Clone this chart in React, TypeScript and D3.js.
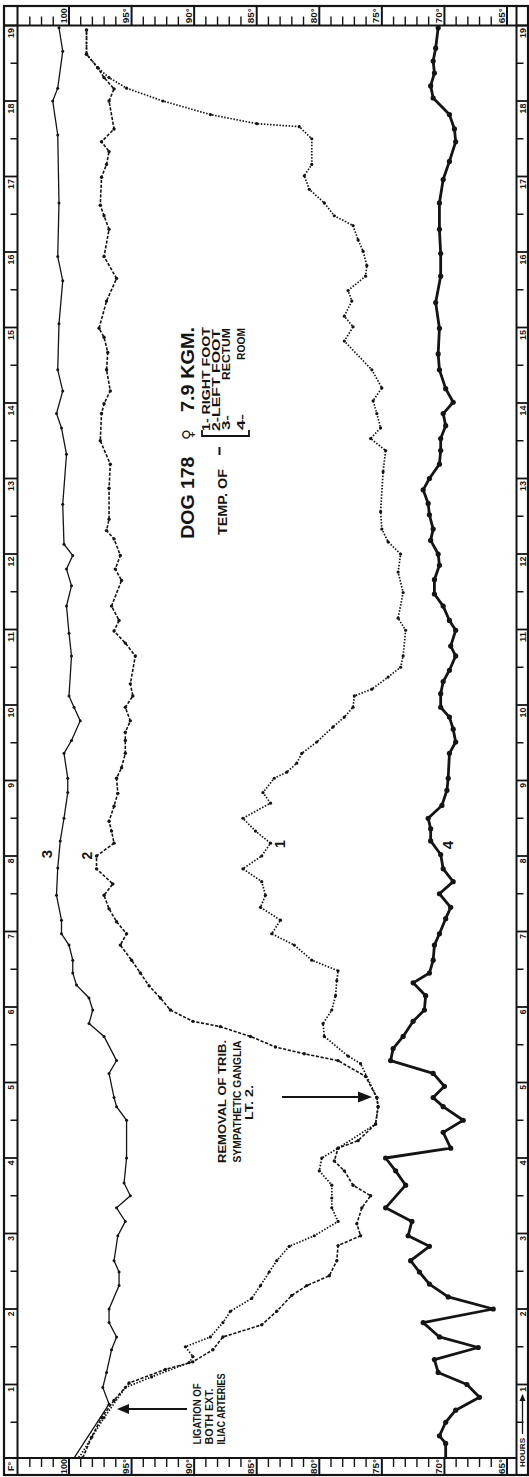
import React from "react";
import * as d3 from "d3";

// ---- Data (hours after start, temperature in °F) ----
// Curve 1: right foot
const rightFootHours = [0.03, 0.56, 0.96, 1.10, 1.29, 1.37, 1.50, 1.63, 1.82, 1.97, 2.14, 2.31, 2.49, 2.64, 2.83, 2.97, 3.16, 3.34, 3.47, 3.64, 3.83, 4.00, 4.13, 4.45, 4.68, 4.80, 5.25, 5.35, 5.61, 5.78, 5.96, 6.15, 6.35, 6.48, 6.62, 6.82, 6.97, 7.15, 7.32, 7.48, 7.66, 7.83, 8.00, 8.17, 8.33, 8.50, 8.70, 8.84, 9.03, 9.11, 9.23, 9.36, 9.51, 9.71, 9.84, 9.97, 10.12, 10.21, 10.37, 10.50, 10.65, 10.99, 11.15, 11.49, 11.76, 12.00, 12.16, 12.33, 12.56, 13.09, 13.37, 13.53, 13.67, 13.86, 14.03, 14.20, 14.44, 14.82, 15.01, 15.15, 15.35, 15.49, 15.68, 15.82, 16.01, 16.16, 16.35, 16.48, 16.65, 16.83, 17.01, 17.16, 17.50, 17.66, 17.70, 17.82, 18.00, 18.17, 18.31, 18.44, 18.62, 18.94];
const rightFootTemps = [99.2, 97.2, 95.5, 93.4, 90.4, 90.1, 90.7, 88.7, 87.7, 87.1, 85.4, 84.7, 84.0, 83.4, 82.4, 80.4, 78.5, 79.0, 79.0, 79.0, 80.0, 79.8, 78.5, 75.5, 75.3, 75.4, 76.7, 77.7, 79.6, 79.7, 79.0, 78.7, 78.6, 78.5, 80.6, 82.0, 83.8, 83.1, 84.7, 84.3, 84.6, 86.1, 84.6, 83.9, 85.1, 86.1, 83.9, 84.5, 83.6, 82.6, 81.8, 81.4, 80.2, 78.9, 78.0, 77.3, 77.2, 75.8, 74.5, 73.5, 73.3, 73.1, 73.7, 73.3, 73.7, 73.5, 74.5, 75.0, 75.1, 74.9, 74.7, 75.9, 75.1, 75.4, 75.7, 75.0, 75.8, 78.0, 77.3, 78.0, 77.4, 77.7, 76.3, 76.2, 76.5, 76.9, 77.3, 78.8, 79.6, 80.8, 81.2, 80.6, 80.6, 81.6, 85.0, 88.7, 92.5, 95.4, 96.8, 97.7, 98.6, 98.6];

// Curve 2: left foot
const leftFootHours = [0.03, 0.30, 0.56, 0.79, 1.02, 1.20, 1.30, 1.46, 1.63, 1.79, 1.97, 2.18, 2.31, 2.44, 2.64, 2.84, 2.97, 3.13, 3.34, 3.50, 3.64, 3.83, 3.96, 4.13, 4.23, 4.45, 4.68, 4.80, 5.08, 5.29, 5.38, 5.47, 5.61, 5.74, 5.81, 5.96, 6.12, 6.28, 6.45, 6.62, 6.82, 6.97, 7.13, 7.30, 7.48, 7.63, 7.83, 8.00, 8.17, 8.33, 8.46, 8.66, 8.83, 9.03, 9.17, 9.36, 9.53, 9.64, 9.79, 9.97, 10.12, 10.28, 10.65, 10.82, 10.98, 11.12, 11.31, 11.65, 11.80, 11.98, 12.20, 12.31, 12.46, 12.87, 13.19, 13.50, 13.86, 13.99, 14.16, 14.44, 14.67, 14.87, 14.99, 15.35, 15.65, 15.94, 16.30, 16.48, 16.62, 16.99, 17.16, 17.33, 17.46, 17.63, 18.00, 18.16, 18.31, 18.44, 18.62, 18.94];
const leftFootTemps = [98.9, 98.2, 97.4, 96.4, 95.2, 92.3, 90.1, 88.5, 87.7, 84.6, 83.4, 82.2, 81.0, 79.2, 78.6, 78.5, 76.7, 77.0, 76.6, 75.9, 77.3, 78.0, 78.8, 78.5, 76.9, 75.5, 75.3, 75.4, 76.3, 78.5, 81.2, 83.5, 85.5, 87.9, 90.1, 91.9, 92.7, 93.6, 94.3, 95.0, 95.9, 95.4, 96.2, 96.8, 97.2, 96.5, 97.8, 97.8, 96.4, 96.6, 96.8, 96.4, 96.1, 96.2, 95.8, 95.5, 95.5, 95.5, 95.1, 95.5, 94.9, 95.1, 94.7, 95.5, 96.4, 96.0, 96.6, 95.8, 96.3, 95.9, 96.4, 97.0, 96.8, 96.8, 96.7, 97.5, 97.4, 97.2, 96.7, 97.0, 96.9, 97.2, 97.6, 97.0, 96.2, 97.2, 96.8, 97.2, 97.5, 97.4, 97.0, 96.8, 97.4, 96.4, 96.8, 96.4, 97.2, 97.7, 98.6, 98.6];

// Curve 3: rectum
const rectumHours = [0, 0.74, 0.96, 1.16, 1.46, 1.63, 1.82, 2.00, 2.31, 2.49, 2.64, 2.97, 3.16, 3.34, 3.50, 3.67, 4.00, 4.50, 4.68, 4.80, 5.12, 5.29, 5.61, 5.78, 5.96, 6.12, 6.29, 6.45, 6.62, 6.82, 6.97, 7.15, 7.48, 7.84, 8.20, 8.50, 8.84, 9.03, 9.36, 9.53, 9.79, 9.97, 10.12, 10.65, 10.95, 11.31, 11.58, 11.80, 11.98, 12.13, 12.66, 13.32, 13.67, 13.86, 14.16, 14.44, 15.05, 15.62, 15.94, 16.65, 17.55, 18.00, 18.17, 18.66, 18.97];
const rectumTemps = [99.7, 96.8, 97.3, 97.0, 96.6, 96.2, 96.8, 96.8, 96.0, 96.0, 96.4, 96.1, 95.5, 96.2, 95.1, 95.6, 95.4, 95.4, 96.2, 96.4, 96.8, 96.2, 97.2, 98.4, 98.1, 98.4, 99.4, 99.7, 99.7, 100.0, 100.6, 100.6, 101.0, 100.9, 100.7, 100.4, 100.1, 100.1, 100.4, 99.8, 99.1, 99.6, 100.0, 99.8, 100.0, 100.2, 99.8, 100.2, 99.7, 100.4, 100.5, 100.2, 100.6, 101.0, 100.5, 100.9, 100.8, 100.5, 100.9, 100.8, 100.9, 101.3, 100.9, 100.5, 100.8];

// Curve 4: room
const roomHours = [0, 0.22, 0.32, 0.50, 0.66, 0.83, 1.00, 1.16, 1.33, 1.49, 1.63, 1.82, 2.00, 2.16, 2.33, 2.49, 2.64, 2.83, 2.97, 3.16, 3.34, 3.64, 3.83, 4.00, 4.13, 4.34, 4.50, 4.68, 4.80, 4.95, 5.12, 5.29, 5.45, 5.61, 5.81, 5.96, 6.15, 6.32, 6.45, 6.62, 6.82, 6.97, 7.17, 7.32, 7.50, 7.66, 7.83, 8.02, 8.20, 8.36, 8.50, 8.67, 8.87, 9.03, 9.36, 9.51, 9.68, 9.84, 9.97, 10.15, 10.31, 10.46, 10.65, 10.78, 10.99, 11.12, 11.31, 11.47, 11.66, 11.85, 12.00, 12.18, 12.33, 12.52, 12.67, 12.85, 13.00, 13.19, 13.37, 13.53, 13.70, 13.86, 14.01, 14.19, 14.44, 14.65, 14.99, 15.33, 15.68, 15.98, 16.30, 16.65, 16.96, 17.20, 17.46, 17.63, 17.82, 18.04, 18.20, 18.37, 18.53, 18.70, 18.97];
const roomTemps = [69.9, 69.9, 70.4, 69.9, 69.1, 67.2, 68.2, 70.5, 70.8, 67.3, 70.4, 71.7, 66.1, 69.7, 71.2, 72.0, 72.7, 71.2, 72.9, 72.6, 74.7, 73.1, 73.9, 74.7, 69.5, 70.1, 68.5, 70.1, 70.9, 70.0, 70.9, 74.3, 74.1, 73.3, 72.5, 71.6, 71.5, 72.5, 71.2, 70.9, 70.8, 70.4, 69.9, 69.5, 70.4, 69.3, 70.1, 70.3, 71.1, 71.1, 71.3, 70.2, 69.8, 69.7, 69.6, 69.1, 69.3, 69.6, 70.3, 70.3, 70.1, 69.6, 69.1, 69.5, 69.1, 69.6, 70.1, 70.8, 70.8, 70.4, 70.5, 71.1, 70.9, 71.2, 71.3, 71.7, 71.2, 70.4, 70.3, 70.3, 69.9, 70.1, 69.3, 69.9, 70.4, 70.5, 70.4, 70.7, 70.3, 70.3, 70.4, 70.4, 70.1, 69.6, 69.1, 69.2, 69.6, 70.9, 71.1, 70.8, 70.9, 70.7, 70.5];

// ---- Axis labels ----
const tempMajors = [100, 95, 90, 85, 80, 75, 70, 65];
const tempMajorLabels = ["100", "95°", "90°", "85°", "80°", "75°", "70°", "65°"];
const hourTicks = d3.range(1, 20);
const hourLabels = hourTicks.map(String);

const INK = "#141414";
const FONT = "'Liberation Sans', Arial, Helvetica, sans-serif";

type Pt = { h: number; t: number };
const zip = (hs: number[], ts: number[]): Pt[] => hs.map((h, i) => ({ h, t: ts[i] }));

function RText(props: {
  x: number; y: number; anchor?: string; size: number; weight?: any;
  len?: number; central?: boolean; children: any; family?: string;
}) {
  const { x, y, anchor = "start", size, weight = "bold", len, central, children, family } = props;
  return (
    <text
      transform={`translate(${x},${y}) rotate(-90)`}
      textAnchor={anchor}
      fontSize={size}
      fontWeight={weight}
      fontFamily={family || FONT}
      fill={INK}
      dominantBaseline={central ? "central" : undefined}
      textLength={len}
      lengthAdjust={len ? "spacingAndGlyphs" : undefined}
    >
      {children}
    </text>
  );
}

export default function App() {
  const W = 529, H = 1477;
  const L = { x0: 4, y0: 6, x1: 528, y1: 1475 };
  const P = { x0: 17.5, y0: 25.5, x1: 516.5, y1: 1458 };

  const x = d3.scaleLinear().domain([100, 65]).range([69, 507]);
  const y = d3.scaleLinear().domain([0, 19]).range([1460, 25.5]);

  const line = d3.line<Pt>().x((d) => x(d.t)).y((d) => y(d.h));

  const rf = zip(rightFootHours, rightFootTemps);
  const lf = zip(leftFootHours, leftFootTemps);
  const re = zip(rectumHours, rectumTemps);
  const rm = zip(roomHours, roomTemps);

  // minor degree ticks: four per 5-degree box, box label takes the last slot
  const minorTemps: number[] = [];
  [105, 100, 95, 90, 85, 80, 75, 70].forEach((m) => {
    for (let k = 1; k <= 4; k++) minorTemps.push(m - k * 0.935);
  });
  const minorX = minorTemps.map((t) => x(t)).filter((v) => v > 20 && v < P.x1 - 2);

  const halfHours = hourTicks.map((h) => h - 0.5);

  const arrowHead = (tx: number, ty: number, dir: "left" | "right" | "up", len: number, hw: number) => {
    if (dir === "right") return `M${tx},${ty} L${tx - len},${ty - hw} L${tx - len},${ty + hw} Z`;
    if (dir === "left") return `M${tx},${ty} L${tx + len},${ty - hw} L${tx + len},${ty + hw} Z`;
    return `M${tx},${ty} L${tx - hw},${ty + len} L${tx + hw},${ty + len} Z`;
  };

  return (
    <svg
      width={W}
      height={H}
      viewBox={`0 0 ${W} ${H}`}
      style={{ position: "absolute", left: 0, top: 0, background: "#fff" }}
    >
      <rect x={0} y={0} width={W} height={H} fill="#fff" />
      <defs>
        <clipPath id="plotClip">
          <rect x={P.x0} y={P.y0} width={P.x1 - P.x0} height={P.y1 - P.y0} />
        </clipPath>
      </defs>

      {/* frame */}
      <rect x={L.x0} y={L.y0} width={L.x1 - L.x0} height={L.y1 - L.y0} fill="none" stroke={INK} strokeWidth={2.2} />
      <line x1={P.x0} y1={L.y0} x2={P.x0} y2={L.y1} stroke={INK} strokeWidth={2} />
      <line x1={P.x1} y1={L.y0} x2={P.x1} y2={L.y1} stroke={INK} strokeWidth={2} />
      <line x1={L.x0} y1={P.y0} x2={L.x1} y2={P.y0} stroke={INK} strokeWidth={2} />
      <line x1={L.x0} y1={P.y1} x2={P.x1} y2={P.y1} stroke={INK} strokeWidth={2} />

      {/* temperature scale: top and bottom strips */}
      {tempMajors.map((t, i) => (
        <g key={"tm" + t}>
          <line x1={x(t)} y1={L.y0} x2={x(t)} y2={P.y0} stroke={INK} strokeWidth={2} />
          <line x1={x(t)} y1={P.y1} x2={x(t)} y2={L.y1} stroke={INK} strokeWidth={2} />
          <RText x={x(t) - 5.5} y={(L.y0 + P.y0) / 2} anchor="middle" size={9} len={15} central>
            {tempMajorLabels[i]}
          </RText>
          <RText x={x(t) - 5.5} y={(P.y1 + L.y1) / 2} anchor="middle" size={9} len={15} central>
            {tempMajorLabels[i]}
          </RText>
        </g>
      ))}
      {minorX.map((mx, i) => (
        <g key={"mt" + i}>
          <line x1={mx} y1={P.y0} x2={mx} y2={P.y0 - 9} stroke={INK} strokeWidth={1.4} />
          <line x1={mx} y1={P.y1} x2={mx} y2={P.y1 + 9} stroke={INK} strokeWidth={1.4} />
        </g>
      ))}
      <RText x={11} y={(P.y1 + L.y1) / 2} anchor="middle" size={9} central>F°</RText>

      {/* hour scale: left and right strips */}
      {hourTicks.map((h, i) => (
        <g key={"h" + h}>
          <line x1={L.x0} y1={y(h)} x2={P.x0} y2={y(h)} stroke={INK} strokeWidth={1.8} />
          <line x1={P.x1} y1={y(h)} x2={L.x1} y2={y(h)} stroke={INK} strokeWidth={1.8} />
          <RText x={11} y={y(h) + 2.5} anchor="end" size={8.5} central len={h >= 10 ? 10 : undefined}>
            {hourLabels[i]}
          </RText>
          <RText x={522.5} y={y(h) + 2.5} anchor="end" size={8.5} central len={h >= 10 ? 10 : undefined}>
            {hourLabels[i]}
          </RText>
        </g>
      ))}
      {halfHours.map((h) => (
        <g key={"hh" + h}>
          <line x1={P.x0} y1={y(h)} x2={P.x0 - 7} y2={y(h)} stroke={INK} strokeWidth={1.5} />
          <line x1={P.x1} y1={y(h)} x2={P.x1 + 7} y2={y(h)} stroke={INK} strokeWidth={1.5} />
        </g>
      ))}
      {/* HOURS arrow */}
      <RText x={522.5} y={1467} anchor="start" size={7.5} central len={29}>HOURS</RText>
      <line x1={522.5} y1={1434} x2={522.5} y2={1400} stroke={INK} strokeWidth={1.3} />
      <path d={arrowHead(522.5, 1394, "up", 7, 3)} fill={INK} />

      {/* curves */}
      <g clipPath="url(#plotClip)">
        {/* 3 rectum */}
        <path d={line(re) || ""} fill="none" stroke={INK} strokeWidth={1.3} />
        {re.map((d, i) => (
          <circle key={"re" + i} cx={x(d.t)} cy={y(d.h)} r={1.5} fill={INK} />
        ))}
        {/* 2 left foot */}
        <path d={line(lf) || ""} fill="none" stroke={INK} strokeWidth={1.6} strokeDasharray="3.2 1.6" />
        {lf.map((d, i) => (
          <circle key={"lf" + i} cx={x(d.t)} cy={y(d.h)} r={1.7} fill={INK} />
        ))}
        {/* 1 right foot */}
        <path d={line(rf) || ""} fill="none" stroke={INK} strokeWidth={1.7} strokeDasharray="1.5 1.6" />
        {rf.map((d, i) => (
          <circle key={"rf" + i} cx={x(d.t)} cy={y(d.h)} r={1.6} fill={INK} />
        ))}
        {/* 4 room */}
        <path d={line(rm) || ""} fill="none" stroke={INK} strokeWidth={2.8} strokeLinejoin="round" />
        {rm.map((d, i) => (
          <circle key={"rm" + i} cx={x(d.t)} cy={y(d.h)} r={2.6} fill={INK} />
        ))}
      </g>

      {/* curve numbers */}
      <RText x={46} y={854} anchor="middle" size={15} central>3</RText>
      <RText x={87} y={855.5} anchor="middle" size={14} central>2</RText>
      <RText x={280} y={844} anchor="middle" size={14} central>1</RText>
      <RText x={447.5} y={845} anchor="middle" size={15} central>4</RText>

      {/* legend block */}
      <RText x={194} y={538.7} size={18} weight={600} len={82}>DOG 178</RText>
      <RText x={193} y={440} size={15} weight="normal" family="'DejaVu Sans', sans-serif">♀</RText>
      <RText x={194} y={412} size={18} weight={600} len={85}>7.9 KGM.</RText>
      <RText x={226.5} y={535} size={12} len={66}>TEMP. OF</RText>
      <line x1={219.5} y1={447} x2={219.5} y2={455} stroke={INK} strokeWidth={2} />
      <path d="M202,430 L202,436 L249,436 L249,430" fill="none" stroke={INK} strokeWidth={1.8} />
      <RText x={209.5} y={431} size={10} len={104}>1- RIGHT FOOT</RText>
      <RText x={219.5} y={431} size={10} len={102}>2-LEFT FOOT</RText>
      <RText x={230} y={430} size={10} len={15}>3-</RText>
      <RText x={230} y={328} anchor="end" size={10} len={52}>RECTUM</RText>
      <RText x={245} y={430} size={10} len={16}>4-</RText>
      <RText x={245} y={328} anchor="end" size={10} len={32}>ROOM</RText>

      {/* removal annotation */}
      <RText x={225.5} y={1101.5} anchor="middle" size={11} len={123}>REMOVAL OF TRIB.</RText>
      <RText x={240.5} y={1101.5} anchor="middle" size={11} len={122}>SYMPATHETIC GANGLIA</RText>
      <RText x={252.5} y={1102.5} anchor="middle" size={11} len={35}>LT. 2.</RText>
      <line x1={282} y1={1097} x2={360} y2={1097} stroke={INK} strokeWidth={2.2} />
      <path d={arrowHead(372, 1097, "right", 14, 5.5)} fill={INK} />

      {/* ligation annotation */}
      <RText x={200.5} y={1444.4} size={10.5} len={61}>LIGATION OF</RText>
      <RText x={212.5} y={1444.4} size={10.5} len={56}>BOTH EXT.</RText>
      <RText x={225} y={1444.4} size={10.5} len={71}>ILIAC ARTERIES</RText>
      <line x1={187} y1={1409} x2={128} y2={1409} stroke={INK} strokeWidth={2.2} />
      <path d={arrowHead(117, 1409, "left", 12, 5)} fill={INK} />
    </svg>
  );
}
